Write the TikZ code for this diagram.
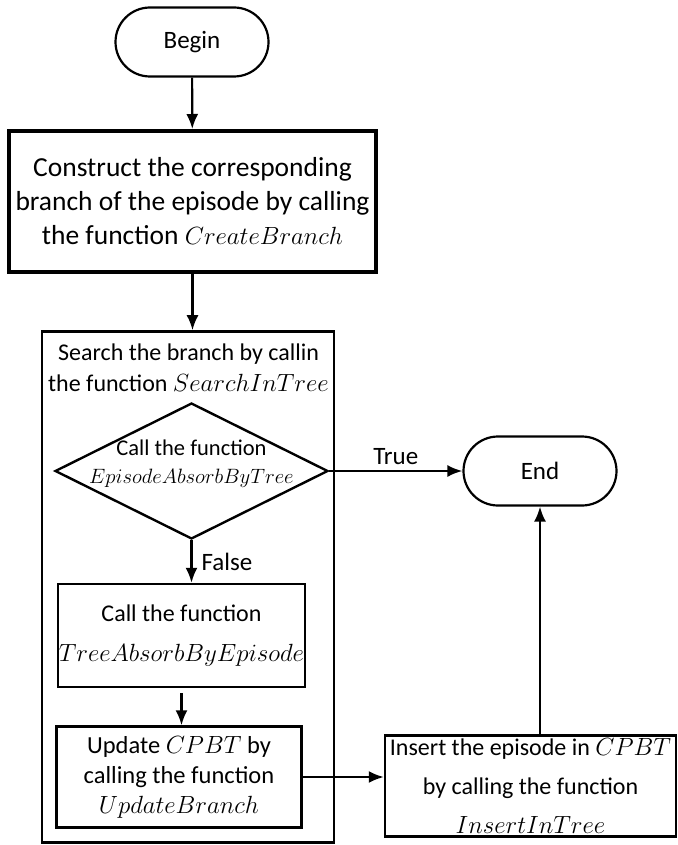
\documentclass[tikz,border=0pt]{standalone}
\usepackage{fontspec}
\setmainfont{Carlito}
\usetikzlibrary{shapes.geometric, shapes.misc, arrows.meta}

\begin{document}
\begin{tikzpicture}[x=1pt, y=-1pt, >={Latex[length=15pt, width=12pt]}, line width=2.2pt]
				\tikzstyle{every node}=[inner sep=1pt, align=center]
				\tikzstyle{terminal}=[draw, rounded rectangle, minimum width=155pt, minimum height=69pt, font=\fontsize{25}{30}\selectfont]
				\tikzstyle{process}=[draw, rectangle, line width=2.4pt, font=\fontsize{25}{30}\selectfont]
				\tikzstyle{decision}=[draw, diamond, line width=2.4pt, minimum width=273pt, minimum height=136pt, inner sep=0pt]
				\useasboundingbox (0, 0) rectangle (677, 845);
				\node[terminal] (begin) at (192, 42) {Begin};
				\node[process, line width=4pt, minimum width=367pt, minimum height=141pt, font=\fontsize{27.5}{34}\selectfont] (construct) at (192.5, 201.5) {Construct the corresponding\\ branch of the episode by calling\\ the function $CreateBranch$};
				\node[draw, rectangle, line width=2.6pt, minimum width=292pt, minimum height=511pt] (search) at (188, 587) {};
				\node[font=\fontsize{24}{31}\selectfont] (searchtxt) at (188.5, 368) {Search the branch by callin\\ the function $SearchInTree$};
				\node[decision] (absorb) at (191.5, 471) {};
				\node[font=\fontsize{22.5}{28}\selectfont] (absorbtxt) at (191.5, 464) {Call the function\\ $EpisodeAbsorbByTree$};
				\node[terminal] (end) at (540, 471) {End};
				\node[process, minimum width=246pt, minimum height=103pt, font=\fontsize{24}{40}\selectfont] (treeabs) at (181.5, 635.5) {Call the function\\ $TreeAbsorbByEpisode$};
				\node[process, minimum width=245pt, minimum height=101pt, font=\fontsize{24.5}{30}\selectfont] (update) at (179, 777) {Update $CPBT$ by\\ calling the function\\ $UpdateBranch$};
				\node[process, minimum width=291pt, minimum height=101pt, font=\fontsize{24}{39}\selectfont] (insert) at (530.5, 786) {Insert the episode in $CPBT$\\ by calling the function\\ $InsertInTree$};
				\draw [->] (begin) -- (construct);
				\draw [->] (construct) -- (construct.south |- search.north);
				\draw [->] (absorb) -- (end) node[midway, above, yshift=4pt, font=\fontsize{25}{30}\selectfont] {True};
				\draw [->] (absorb.south) -- (absorb.south |- treeabs.north) node[midway, right, xshift=8pt, font=\fontsize{25}{30}\selectfont] {False};
				\draw [->, shorten <=5pt] (treeabs.south) -- (treeabs.south |- update.north);
				\draw [->] (update.east) -- (update.east -| insert.west);
				\draw [->] (end.south |- insert.north) -- (end.south);
		\end{tikzpicture}
\end{document}
